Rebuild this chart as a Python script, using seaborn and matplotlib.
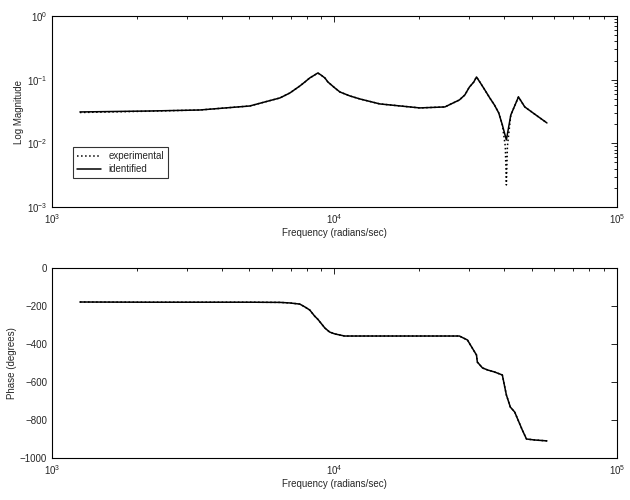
import matplotlib
matplotlib.use("Agg")
import matplotlib.pyplot as plt
import matplotlib.ticker as mticker
import seaborn as sns
import pandas as pd

# ---- data ----
freq_id = [1256, 2222, 3339, 5018, 5675, 6413, 6958, 7547, 7864, 8180, 8461,
           8740, 8959, 9256, 9484, 10040, 10460, 11350, 12310, 14480, 20060,
           24620, 27710, 28970, 30040, 31170, 31860, 32730, 34110, 35510,
           36870, 38200, 39330, 40650, 42150, 44860, 47240, 51070, 56590]
mag_id = [0.0311, 0.0322, 0.0334, 0.0386, 0.0447, 0.0516, 0.0618, 0.0796,
          0.0920, 0.1064, 0.1164, 0.1274, 0.1186, 0.1064, 0.0920, 0.0741,
          0.0641, 0.0555, 0.0498, 0.0416, 0.0360, 0.0373, 0.0480, 0.0575,
          0.0760, 0.0920, 0.1102, 0.0920, 0.0689, 0.0516, 0.0401, 0.0300,
          0.0195, 0.0113, 0.0279, 0.0535, 0.0373, 0.0290, 0.0209]

freq_exp = [1256, 2222, 3339, 5018, 5675, 6413, 6958, 7547, 7864, 8180, 8461,
            8740, 8959, 9256, 9484, 10040, 10460, 11350, 12310, 14480, 20060,
            24620, 27710, 28970, 30040, 31170, 31860, 32730, 34110, 35510,
            36870, 38200, 39330, 40300, 40650, 41000, 42150, 44860, 47240,
            51070, 56590]
mag_exp = [0.0305, 0.0320, 0.0334, 0.0386, 0.0447, 0.0516, 0.0618, 0.0796,
           0.0920, 0.1064, 0.1164, 0.1274, 0.1186, 0.1064, 0.0920, 0.0741,
           0.0641, 0.0555, 0.0498, 0.0416, 0.0360, 0.0373, 0.0480, 0.0575,
           0.0760, 0.0920, 0.1102, 0.0920, 0.0689, 0.0516, 0.0401, 0.0300,
           0.0195, 0.0090, 0.00222, 0.0090, 0.0279, 0.0535, 0.0373, 0.0290,
           0.0209]

freq_ph = [1256, 2222, 3339, 5018, 6413, 6958, 7547, 7864, 8180, 8512, 8740,
           9256, 9620, 10040, 10870, 14480, 20060, 27710, 29600, 30040, 31860,
           32080, 33460, 34930, 36870, 39330, 40650, 41990, 43500, 46300,
           47890, 51070, 56590]
phase = [-179, -180, -180, -180, -181, -184, -190, -205, -221, -253, -270,
         -316, -337, -347, -358, -358, -358, -358, -379, -395, -458, -495,
         -526, -537, -547, -563, -668, -732, -758, -853, -900, -905, -910]

x_ticks = [1e3, 1e4, 1e5]
phase_ticks = [-1000, -800, -600, -400, -200, 0]
mag_ticks = [1e-3, 1e-2, 1e-1, 1e0]

sns.set_theme(style="white")
plt.rcParams["font.family"] = ["Liberation Sans", "DejaVu Sans"]
plt.rcParams["font.size"] = 7
plt.rcParams["mathtext.default"] = "regular"

df_id = pd.DataFrame({"f": freq_id, "m": mag_id})
df_exp = pd.DataFrame({"f": freq_exp, "m": mag_exp})
df_ph = pd.DataFrame({"f": freq_ph, "p": phase})

fig = plt.figure(figsize=(6.3, 5.0), dpi=100)
ax1 = fig.add_axes([0.0825, 0.586, 0.8965, 0.382])
ax2 = fig.add_axes([0.0825, 0.084, 0.8965, 0.380])

sns.lineplot(data=df_exp, x="f", y="m", ax=ax1, color="black", lw=1.1,
             linestyle=":", label="experimental", estimator=None)
sns.lineplot(data=df_id, x="f", y="m", ax=ax1, color="black", lw=1.1,
             label="identified", estimator=None)
ax1.set_xscale("log")
ax1.set_yscale("log")
ax1.set_xlim(1e3, 1e5)
ax1.set_ylim(1e-3, 1e0)
ax1.set_yticks(mag_ticks)
ax1.set_xlabel("Frequency (radians/sec)", fontsize=7, labelpad=2)
ax1.set_ylabel("Log Magnitude", fontsize=7, labelpad=2)
leg = ax1.legend(loc="lower left", bbox_to_anchor=(0.028, 0.126), fontsize=7,
                 frameon=True, fancybox=False, edgecolor="black",
                 handlelength=2.5, borderpad=0.4, labelspacing=0.3)
leg.get_frame().set_linewidth(0.8)

sns.lineplot(data=df_ph, x="f", y="p", ax=ax2, color="black", lw=1.1,
             estimator=None)
ax2.plot(freq_ph, phase, color="black", lw=1.1, linestyle=":")
ax2.set_xscale("log")
ax2.set_xlim(1e3, 1e5)
ax2.set_ylim(-1000, 0)
ax2.set_yticks(phase_ticks)
ax2.set_xlabel("Frequency (radians/sec)", fontsize=7, labelpad=2)
ax2.set_ylabel("Phase (degrees)", fontsize=7, labelpad=2)

for ax in (ax1, ax2):
    ax.set_xticks(x_ticks)
    ax.xaxis.set_minor_locator(mticker.LogLocator(base=10, subs=range(2, 10)))
    ax.xaxis.set_minor_formatter(mticker.NullFormatter())
    ax.tick_params(which="both", direction="in", top=True, right=True,
                   labelsize=7, color="black", width=0.6)
    ax.tick_params(which="major", length=4)
    ax.tick_params(which="minor", length=2)
    for s in ax.spines.values():
        s.set_color("black")
        s.set_linewidth(0.8)
    ax.grid(False)

fig.savefig("out.png", dpi=100)
